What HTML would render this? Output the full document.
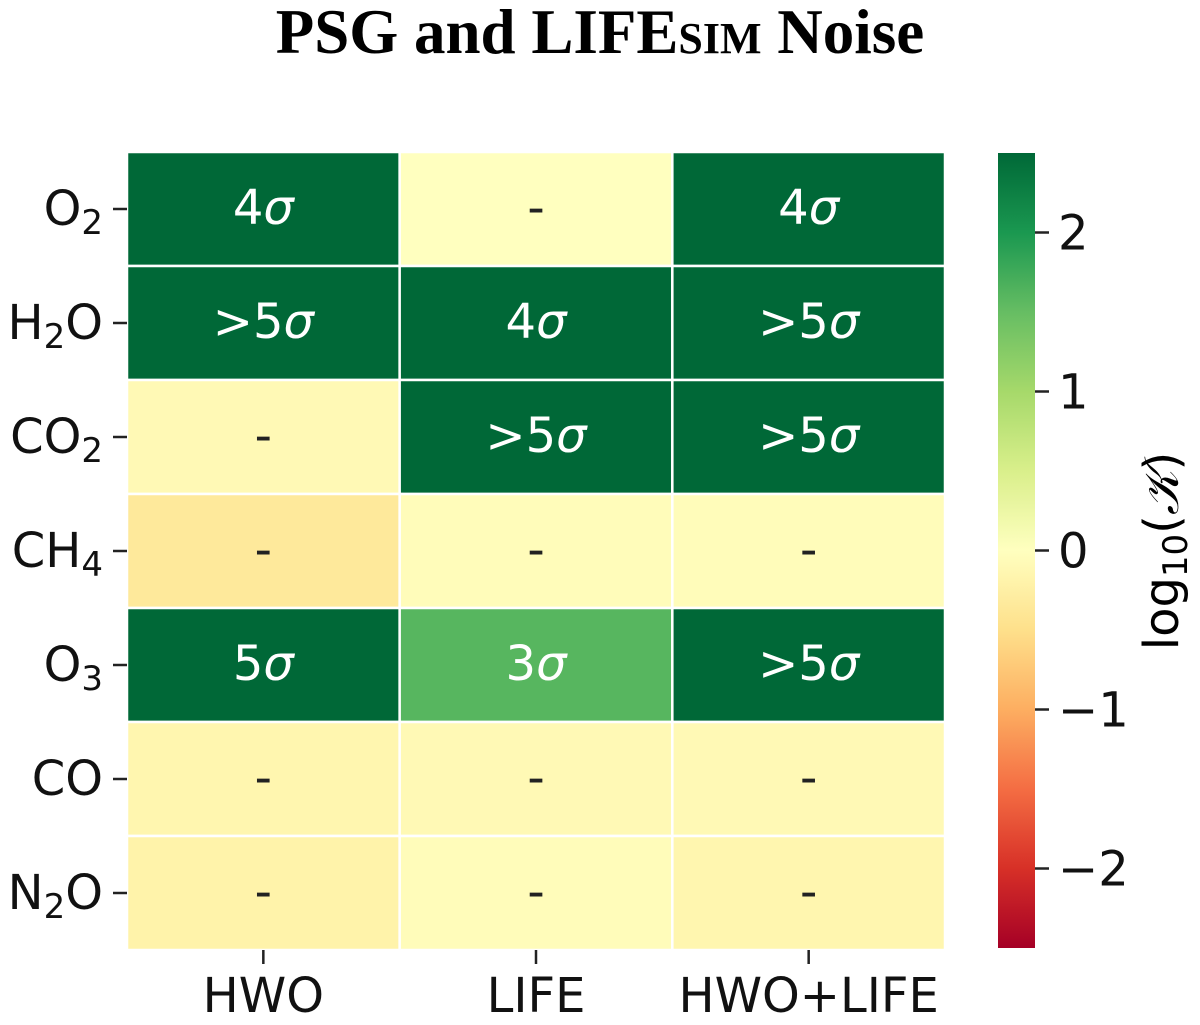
<!DOCTYPE html>
<html><head><meta charset="utf-8"><style>
body{margin:0;background:#fff;width:1200px;height:1020px;overflow:hidden}
svg text{font-family:"DejaVu Sans","Liberation Sans",sans-serif}
</style></head><body>
<svg id="chart" width="1200" height="1020" xmlns="http://www.w3.org/2000/svg">
<text x="600" y="53" text-anchor="middle" style="font-family:'Liberation Serif',serif;font-weight:bold;font-size:63px">PSG and LIFE<tspan font-size="44">SIM</tspan> Noise</text>
<g id="cells"></g><g id="yaxis"></g><g id="xaxis"></g><g id="cbar"></g>
<text transform="translate(1178,551) rotate(-90)" text-anchor="middle" font-size="48">log<tspan font-size="34" dy="9">10</tspan><tspan dy="-9">(</tspan><tspan font-style="italic" style="font-family:'Liberation Serif',serif">𝒦</tspan><tspan>)</tspan></text>
</svg>
<script>
const rows = ["O2","H2O","CO2","CH4","O3","CO","N2O"];
const rowSubs = [["O","2",""],["H","2","O"],["CO","2",""],["CH","4",""],["O","3",""],["CO","",""],["N","2","O"]];
const cols = ["HWO","LIFE","HWO+LIFE"];
const values = [
 [3,0,3],
 [3,2.8,3],
 [-0.1,3,3],
 [-0.35,-0.05,-0.05],
 [3,1.6,3],
 [-0.15,-0.1,-0.1],
 [-0.2,-0.05,-0.15]];
const labels = [
 ["4σ","-","4σ"],
 [">5σ","4σ",">5σ"],
 ["-",">5σ",">5σ"],
 ["-","-","-"],
 ["5σ","3σ",">5σ"],
 ["-","-","-"],
 ["-","-","-"]];
const cbTicks = [2,1,0,-1,-2];
const vmin=-2.5, vmax=2.5;
const stops=["#a50026","#d73027","#f46d43","#fdae61","#fee08b","#ffffbf","#d9ef8b","#a6d96a","#66bd63","#1a9850","#006837"];
function hex(h){return [1,3,5].map(i=>parseInt(h.substr(i,2),16));}
function cmap(v){let t=Math.max(0,Math.min(1,(v-vmin)/(vmax-vmin)))*10;let i=Math.min(9,Math.floor(t)),f=t-i;
 const a=hex(stops[i]),b=hex(stops[i+1]);return "rgb("+a.map((c,k)=>Math.round(c+(b[k]-c)*f)).join(",")+")";}
const X0=127,X1=945,Y0=152,Y1=950;
const cw=(X1-X0)/cols.length, rh=(Y1-Y0)/rows.length;
const xs=j=>X0+j*cw, ys=i=>Y0+i*rh;
const NS="http://www.w3.org/2000/svg";
function mk(tag,attrs,parent,txt){const e=document.createElementNS(NS,tag);for(const k in attrs)e.setAttribute(k,attrs[k]);if(txt!==undefined)e.textContent=txt;parent.appendChild(e);return e;}
function addLabel(t,s){
 const parts=s.split('σ');
 mk('tspan',{},t,parts[0]);
 if(parts.length>1){mk('tspan',{'font-style':'italic'},t,'σ');}
}
const gc=document.getElementById('cells');
rows.forEach((r,i)=>cols.forEach((c,j)=>{
 const v=values[i][j];
 const rect=mk('rect',{x:xs(j),y:ys(i),width:cw,height:rh,fill:cmap(v),stroke:'#fff','stroke-width':2.5},gc);
 
 
 const t=mk('text',{x:xs(j)+cw/2,y:ys(i)+rh/2+15,'text-anchor':'middle','font-size':48,fill:(v>1||v<-1.5)?'#fff':'#222'},gc);
 addLabel(t,labels[i][j]);
 
 
}));
const gy=document.getElementById('yaxis');
rowSubs.forEach((p,i)=>{
 const y=ys(i)+rh/2;
 const tk=mk('line',{x1:113,x2:127,y1:y,y2:y,stroke:'#222','stroke-width':2.5},gy);
 
 
 const t=mk('text',{x:103,y:y+16,'text-anchor':'end','font-size':48,fill:'#111'},gy);
 
 
 mk('tspan',{},t,p[0]);
 if(p[1]){mk('tspan',{'font-size':34,dy:9},t,p[1]);}
 if(p[2]){mk('tspan',{dy:-9},t,p[2]);}
});
const gx=document.getElementById('xaxis');
cols.forEach((c,j)=>{
 const x=xs(j)+cw/2;
 const tk=mk('line',{x1:x,x2:x,y1:950,y2:964,stroke:'#222','stroke-width':2.5},gx);
 
 
 const t=mk('text',{x:x,y:1012,'text-anchor':'middle','font-size':48,fill:'#111'},gx,c);
 
 
});
const gb=document.getElementById('cbar');
const CX=998,CW=37,CY0=153,CY1=948;
const cy=v=>CY0+(vmax-v)/(vmax-vmin)*(CY1-CY0);
const defs=mk('defs',{},gb);
const lg=mk('linearGradient',{id:'cg',x1:0,y1:1,x2:0,y2:0},defs);
for(let k=0;k<=50;k++){mk('stop',{offset:(k/50),'stop-color':cmap(vmin+k/50*(vmax-vmin))},lg);}
const cb=mk('rect',{x:CX,y:CY0,width:CW,height:CY1-CY0,fill:'url(#cg)'},gb);


cbTicks.forEach(v=>{
 const y=cy(v);
 const tk=mk('line',{x1:CX+CW,x2:CX+CW+14,y1:y,y2:y,stroke:'#222','stroke-width':2.5},gb);
 
 
 const t=mk('text',{x:1058,y:y+17,'font-size':48,fill:'#111'},gb,v<0?'−'+(-v):String(v));
 
 
});
</script>
</body></html>
